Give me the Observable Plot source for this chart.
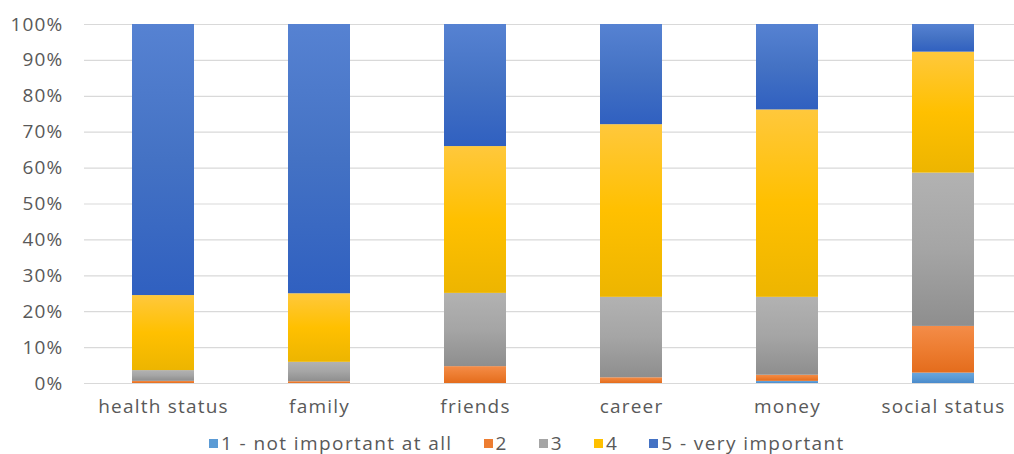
<!DOCTYPE html>
<html>
<head>
<meta charset="utf-8">
<script src="https://cdn.jsdelivr.net/npm/d3@7"></script>
<script src="https://cdn.jsdelivr.net/npm/@observablehq/plot@0.6"></script>
<style>
  html, body { margin: 0; padding: 0; background: #fff; }
  body { width: 1014px; height: 454px; overflow: hidden; font-family: "Open Sans", sans-serif; position: relative; }
  #legend { position: absolute; left: 209px; top: 434px; display: flex; gap: 31px; font-size: 19px; line-height: 18px; letter-spacing: 1.4px; color: #595959; height: 18px; align-items: center; white-space: nowrap; }
  #legend .item { display: flex; align-items: center; gap: 3px; line-height: 18px; }
  #legend .sw { width: 9px; height: 9px; display: inline-block; }
  svg text { letter-spacing: 1.2px; }
</style>
</head>
<body>
<div id="chart"></div>
<div id="legend"></div>
<script>
const categories = ["health status", "family", "friends", "career", "money", "social status"];
const levels = ["1 - not important at all", "2", "3", "4", "5 - very important"];
const level1 = [0.0, 0.0, 0.0, 0.0, 0.6, 2.9];
const level2 = [0.6, 0.5, 4.7, 1.6, 1.7, 13.0];
const level3 = [3.0, 5.4, 20.4, 22.4, 21.7, 42.7];
const level4 = [20.9, 19.1, 40.9, 48.1, 52.2, 33.7];
const level5 = [75.5, 75.0, 34.0, 27.9, 23.8, 7.7];
const yTicks = [0, 10, 20, 30, 40, 50, 60, 70, 80, 90, 100];
const colors = ["#5B9BD5", "#ED7D31", "#A5A5A5", "#FFC000", "#4472C4"];
const gradTop = ["#6AA6DC", "#F48C48", "#B2B2B2", "#FFC83C", "#5682D2"];
const gradBottom = ["#4A8ACB", "#E46C1C", "#8E8E8E", "#EDB500", "#3060C0"];

const series = [level1, level2, level3, level4, level5];
const data = [];
levels.forEach((lv, i) => {
  categories.forEach((c, j) => {
    data.push({category: c, level: lv, value: series[i][j]});
  });
});

function gradientDefs() {
  const g = d3.create("svg:g");
  const defs = g.append("defs");
  colors.forEach((c, i) => {
    const lg = defs.append("linearGradient").attr("id", "grad" + i)
      .attr("x1", 0).attr("y1", 0).attr("x2", 0).attr("y2", 1);
    lg.append("stop").attr("offset", "0%").attr("stop-color", gradTop[i]);
    lg.append("stop").attr("offset", "50%").attr("stop-color", c);
    lg.append("stop").attr("offset", "100%").attr("stop-color", gradBottom[i]);
  });
  return g.node();
}

const chart = Plot.plot({
  width: 1014,
  height: 430,
  marginTop: 24,
  marginBottom: 47,
  marginLeft: 84,
  marginRight: 0,
  style: {fontFamily: "Open Sans, sans-serif", fontSize: "16px", color: "#595959", background: "#fff"},
  x: {domain: categories, range: [84, 1023], paddingInner: 0.6, paddingOuter: 0.3, align: 0.5, label: null},
  y: {domain: [0, 100], label: null},
  color: {domain: levels, range: colors.map((c, i) => "url(#grad" + i + ")")},
  marks: [
    gradientDefs,
    Plot.ruleY(yTicks, {stroke: "#d9d9d9", strokeWidth: 1.2}),
    Plot.barY(data, {x: "category", y: "value", fill: "level", style: {filter: "drop-shadow(1px 1px 1.5px rgba(0,0,0,0.25))"}}),
    Plot.axisY({ticks: yTicks, tickSize: 0, tickPadding: 21, tickFormat: d => d + "%", fontSize: 19, fill: "#595959"}),
    Plot.axisX({tickSize: 0, tickPadding: 16, fontSize: 19, fill: "#595959"})
  ]
});
document.getElementById("chart").appendChild(chart);

const legend = document.getElementById("legend");
levels.forEach((lv, i) => {
  const it = document.createElement("span");
  it.className = "item";
  const sw = document.createElement("span");
  sw.className = "sw";
  sw.style.background = colors[i];
  const tx = document.createElement("span");
  tx.textContent = lv;
  it.appendChild(sw);
  it.appendChild(tx);
  legend.appendChild(it);
});
</script>
</body>
</html>
